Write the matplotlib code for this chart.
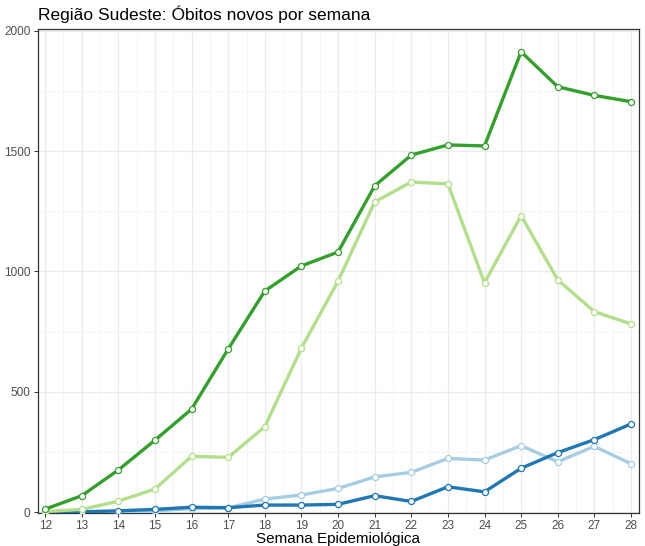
import matplotlib
matplotlib.use("Agg")
import matplotlib.pyplot as plt
from matplotlib.ticker import MultipleLocator

plt.rcParams['font.family'] = ['Liberation Sans', 'DejaVu Sans']

# semanas epidemiologicas
semanas = list(range(12, 29))

# obitos novos por semana
verde_escuro = [12, 68, 175, 299, 428, 678, 919, 1023, 1081, 1356, 1484, 1526, 1522, 1913, 1768, 1732, 1706]
verde_claro = [2, 11, 45, 96, 232, 227, 355, 682, 960, 1289, 1372, 1364, 953, 1232, 965, 833, 782]
azul_escuro = [0, 1, 5, 11, 20, 18, 29, 29, 32, 68, 44, 105, 84, 182, 247, 301, 366]
azul_claro = [0, 0, 2, 5, 14, 17, 54, 71, 98, 146, 165, 223, 216, 276, 209, 273, 201]

series = [
    (azul_claro, '#A6CEE3'),
    (azul_escuro, '#1F78B4'),
    (verde_claro, '#B2DF8A'),
    (verde_escuro, '#33A02C'),
]

fig = plt.figure(figsize=(6.45, 5.46), dpi=100)
ax = fig.add_axes([37.5 / 645, 1 - 513 / 546, (639 - 37.5) / 645, (513 - 29) / 546])

for valores, cor in series:
    ax.plot(semanas, valores, color=cor, lw=2.4, zorder=3,
            marker='o', ms=4.4, mfc='white', mec=cor, mew=0.9)

ax.set_xlim(11.79, 28.22)
ax.set_ylim(-4, 2008)
ax.xaxis.set_major_locator(MultipleLocator(1))
ax.xaxis.set_minor_locator(MultipleLocator(0.5))
ax.yaxis.set_major_locator(MultipleLocator(500))
ax.yaxis.set_minor_locator(MultipleLocator(250))

ax.grid(which='major', color='#EBEBEB', lw=0.9, zorder=0)
ax.grid(which='minor', color='#F4F4F4', lw=0.6, zorder=0)
ax.tick_params(which='minor', length=0)
ax.tick_params(which='major', length=3, color='#333333', width=0.7,
               labelsize=8.5, labelcolor='#4D4D4D', pad=2)
for s in ax.spines.values():
    s.set_color('#333333')
    s.set_linewidth(0.9)

ax.set_xlabel('Semana Epidemiológica', fontsize=11, color='black', labelpad=0)
fig.text(38 / 645, 1 - 14 / 546, 'Região Sudeste: Óbitos novos por semana',
         fontsize=12.5, va='center', ha='left', color='black')

fig.savefig('out.png', dpi=100)
